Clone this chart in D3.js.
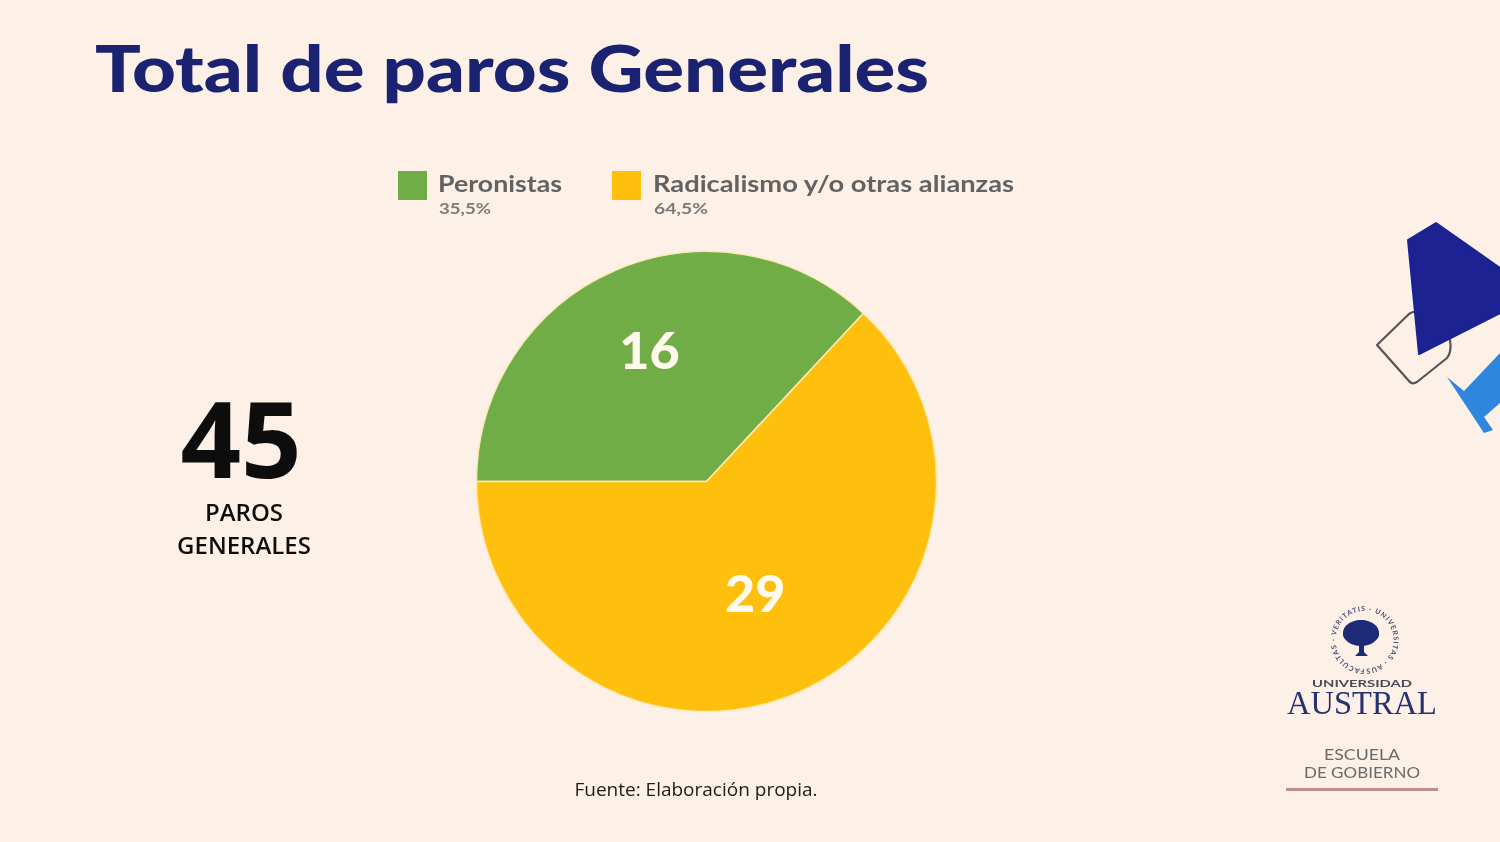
<!DOCTYPE html>
<html><head><meta charset="utf-8">
<script src="https://cdnjs.cloudflare.com/ajax/libs/d3/7.8.5/d3.min.js"></script>
<style>html,body{margin:0;padding:0;background:#fdf1e7;overflow:hidden}svg{display:block}</style>
</head><body><svg id="c" width="1500" height="842"></svg>
<script>
const categories = ["Peronistas", "Radicalismo y/o otras alianzas"];
const paros = [16, 29];
const shareLabels = ["35,5%", "64,5%"];
const drawnShare = [36.95, 63.05];
const colors = ["#70ad47", "#ffc011"];
const totalParos = 45;

const svg = d3.select("#c");
const W = 1500, H = 842;
const defs = svg.append("defs");
defs.append("filter").attr("id","soft").append("feGaussianBlur").attr("stdDeviation",0.7);
defs.append("path").attr("id","ring").attr("d","M1364.5 669 A29 29 0 1 1 1364.6 669");
svg.append("rect").attr("width",W).attr("height",H).attr("fill","#fdf1e7");
const root = svg.append("g").attr("filter","url(#soft)");

function txt(s,x,y,size,fill,weight,anchor,family,len){
  const t = root.append("text").attr("x",x).attr("y",y).attr("font-size",size).attr("fill",fill)
    .attr("font-weight",weight).attr("text-anchor",anchor||"start")
    .attr("font-family",family||"Lato, sans-serif").text(s);
  if(len) t.attr("textLength",len).attr("lengthAdjust","spacingAndGlyphs");
  return t;
}

// title
txt("Total de paros Generales",95,92,64,"#1a2272",900,"start","Lato, sans-serif",834);

// legend
const legendX = d3.scaleOrdinal().domain(categories).range([398,612]);
const legendLen = d3.scaleOrdinal().domain(categories).range([124,361]);
categories.forEach((c,i)=>{
  const x = legendX(c);
  root.append("rect").attr("x",x).attr("y",171).attr("width",29).attr("height",29).attr("fill",colors[i]);
  txt(c,x+(i?41:40),192,23,"#626262",700,"start","Lato, sans-serif",legendLen(c));
  txt(shareLabels[i],x+(i?42:41),214,16,"#7a7a7a",700,"start","Lato, sans-serif",i?54:52);
});

// pie
const cx = 706.5, cy = 481.5, R = 230;
const rows = categories.map((c,i)=>({c,v:paros[i],s:drawnShare[i],col:colors[i]}));
const pie = d3.pie().sort(null).value(d=>d.s).startAngle(-Math.PI/2).endAngle(1.5*Math.PI);
const arc = d3.arc().innerRadius(0).outerRadius(R);
const g = root.append("g").attr("transform",`translate(${cx},${cy})`);
g.selectAll("path").data(pie(rows)).join("path").attr("d",arc).attr("fill",d=>d.data.col)
  .attr("stroke","#fbe9b5").attr("stroke-width",1.5);
const labelArc = d3.arc().innerRadius(0).outerRadius(R);
const labelOffsets = [0.655, 0.515];
g.selectAll("text").data(pie(rows)).join("text")
  .attr("transform",(d,i)=>{
    const a=(d.startAngle+d.endAngle)/2, r=[143,122][i];
    const p = i===0 ? [Math.sin(a)*r, -Math.cos(a)*r] : [Math.sin(a)*r, -Math.cos(a)*r];
    return `translate(${p})`;
  })
  .attr("text-anchor","middle").attr("dy","0.35em")
  .attr("font-family","Lato, sans-serif").attr("font-weight",900).attr("font-size",52)
  .attr("fill","#fff9ee").text(d=>d.data.v);

// total
txt(String(totalParos),241,478,106,"#0d0d0d",700,"middle","'Open Sans', sans-serif");
txt("PAROS",244,521,24,"#111",600,"middle","'Open Sans', sans-serif");
txt("GENERALES",244,554,24,"#111",600,"middle","'Open Sans', sans-serif");

// source
txt("Fuente: Elaboración propia.",696,796,19,"#1c1c1c",400,"middle","'Open Sans', sans-serif");

// right decoration
root.append("path").attr("d","M1377 345 L1409 314 Q1413 311 1418 312 L1450 340 Q1452 352 1447 358 L1417 382 Q1412 385 1409 381 Z")
  .attr("fill","none").attr("stroke","#55535a").attr("stroke-width",2.2).attr("stroke-linejoin","round");
root.append("path").attr("d","M1408 240 L1436 223 L1500 268 L1500 313 L1419 354 Z").attr("fill","#1a2392").attr("stroke","#1a2392").attr("stroke-linejoin","round").attr("stroke-width",2);
root.append("path").attr("d","M1447 377 L1464 391 L1500 353 L1500 403 L1484 417 L1493 430 L1484 433 Z").attr("fill","#2e86de");

// logo
const logo = root.append("g");
logo.append("text").attr("font-size",7).attr("fill","#4b4f78").attr("font-family","Lato, sans-serif").attr("font-weight",700).attr("letter-spacing",1)
  .append("textPath").attr("href","#ring").text("FACULTAS · VERITATIS · UNIVERSITAS · AUSTRALIS · SAPIENTIA · ");
const tree = [[1361,633,18,13],[1350,634,7,7],[1372,634,7,7],[1361,627,10,7]];
tree.forEach(d=>logo.append("ellipse").attr("cx",d[0]).attr("cy",d[1]).attr("rx",d[2]).attr("ry",d[3]).attr("fill","#1e2a78"));
logo.append("path").attr("d","M1359 640 L1364 640 L1364 652 L1368 656 L1355 656 L1359 652 Z").attr("fill","#1e2a78");
txt("UNIVERSIDAD",1362,687,8.5,"#4a4a55",700,"middle","Lato, sans-serif",100);
txt("AUSTRAL",1362,714,33,"#25306f",400,"middle","'Liberation Serif', serif",150);
txt("ESCUELA",1362,760,15,"#6a6a6a",400,"middle","Lato, sans-serif",76);
txt("DE GOBIERNO",1362,778,15,"#6a6a6a",400,"middle","Lato, sans-serif",116);
root.append("rect").attr("x",1286).attr("y",788).attr("width",152).attr("height",3).attr("fill","#b98f92");
</script></body></html>
